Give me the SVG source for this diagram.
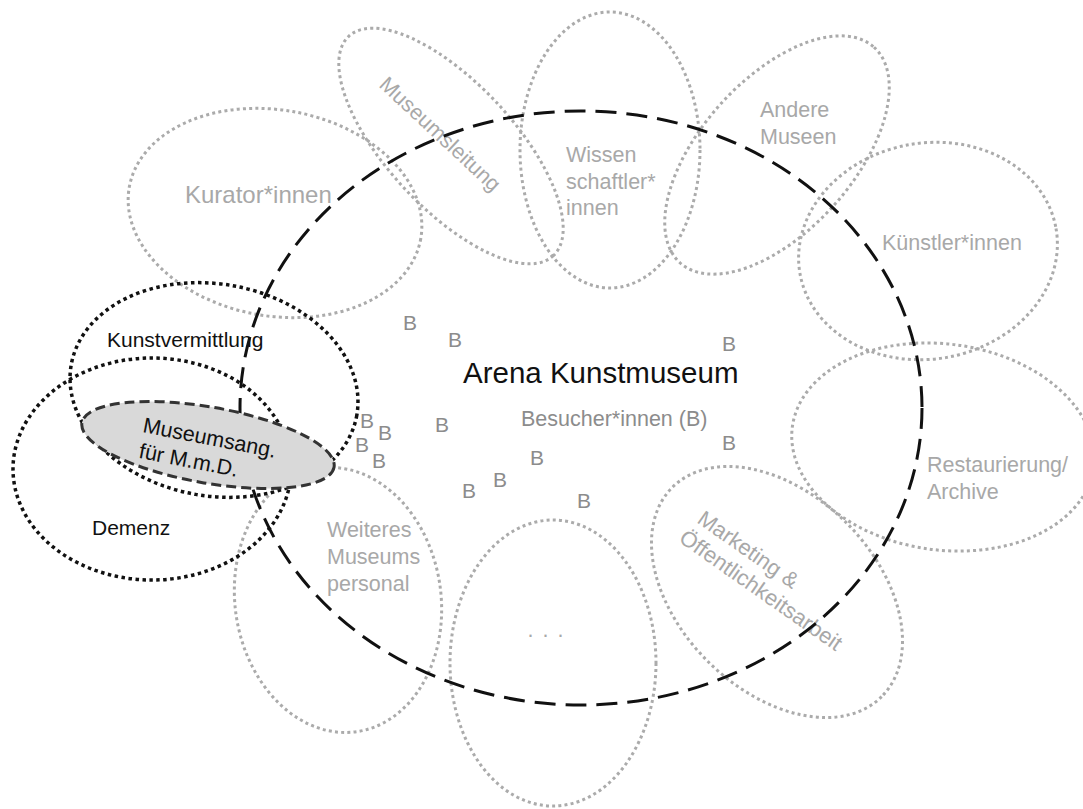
<svg xmlns="http://www.w3.org/2000/svg" width="1083" height="809" viewBox="0 0 1083 809">
  <style>
    .grp { fill: none; stroke: #ababab; stroke-width: 3; stroke-dasharray: 3 3.2; }
    .blk { fill: none; stroke: #111; stroke-width: 3.5; stroke-dasharray: 3.5 3.5; }
    .arena { fill: none; stroke: #111; stroke-width: 3; stroke-dasharray: 21 10; }
    .focus { fill: #d9d9d9; stroke: #333; stroke-width: 3; stroke-dasharray: 10 5; }
    .lbl { font-family: "Liberation Sans", Arial, sans-serif; font-size: 21.5px; fill: #a8a8a8; }
    .b { font-family: "Liberation Sans", Arial, sans-serif; font-size: 21px; fill: #8c8c8c; }
    .dark { font-family: "Liberation Sans", Arial, sans-serif; font-size: 21px; fill: #111; }
  </style>
  <rect width="1083" height="809" fill="#fff"/>

  <!-- stakeholder groups around the arena -->
  <g id="kuratoren">
    <ellipse class="grp" cx="275" cy="213" rx="148" ry="103" transform="rotate(10 275 213)"/>
    <text class="lbl" x="185" y="203" style="font-size:24px">Kurator*innen</text>
  </g>
  <g id="museumsleitung">
    <ellipse class="grp" cx="451" cy="146" rx="150" ry="63" transform="rotate(47 451 146)"/>
    <text class="lbl" transform="translate(378 86) rotate(43)">Museumsleitung</text>
  </g>
  <g id="wissenschaftler">
    <ellipse class="grp" cx="610" cy="150" rx="90" ry="138"/>
    <text class="lbl" x="566" y="162">Wissen<tspan x="566" dy="26.5">schaftler*</tspan><tspan x="566" dy="26.5">innen</tspan></text>
  </g>
  <g id="andere-museen">
    <ellipse class="grp" cx="777" cy="155" rx="145" ry="76" transform="rotate(-48 777 155)"/>
    <text class="lbl" x="760" y="117">Andere<tspan x="760" dy="26.5">Museen</tspan></text>
  </g>
  <g id="kuenstler">
    <ellipse class="grp" cx="928" cy="251" rx="130" ry="108" transform="rotate(-10 928 251)"/>
    <text class="lbl" x="882" y="250">Künstler*innen</text>
  </g>
  <g id="restaurierung">
    <ellipse class="grp" cx="943" cy="447" rx="152" ry="103" transform="rotate(7.7 943 447)"/>
    <text class="lbl" x="927" y="472">Restaurierung/<tspan x="927" dy="27">Archive</tspan></text>
  </g>
  <g id="marketing">
    <ellipse class="grp" cx="777" cy="592" rx="148" ry="98" transform="rotate(45 777 592)"/>
    <text class="lbl" transform="translate(696 522) rotate(35)" style="font-size:22px">Marketing &amp;<tspan x="-4" dy="26">Öffentlichkeitsarbeit</tspan></text>
  </g>
  <g id="weitere">
    <ellipse class="grp" cx="553" cy="663" rx="103" ry="143"/>
    <text class="lbl" x="550" y="637" text-anchor="middle" letter-spacing="9">...</text>
  </g>
  <g id="museumspersonal">
    <ellipse class="grp" cx="338" cy="600" rx="103" ry="133" transform="rotate(-8 338 600)"/>
    <text class="lbl" x="327" y="537">Weiteres<tspan x="327" dy="27">Museums</tspan><tspan x="327" dy="27">personal</tspan></text>
  </g>

  <!-- overlapping fields on the left -->
  <g id="kunstvermittlung">
    <ellipse class="blk" cx="214" cy="390" rx="145" ry="106" transform="rotate(10 214 390)"/>
    <text class="dark" x="107" y="347">Kunstvermittlung</text>
  </g>
  <g id="demenz">
    <ellipse class="blk" cx="152" cy="469" rx="139" ry="111"/>
    <text class="dark" x="92" y="535">Demenz</text>
  </g>

  <!-- the arena and its visitors -->
  <g id="arena">
    <ellipse class="arena" cx="581" cy="408" rx="341" ry="297"/>
    <text x="463" y="383" style="font-family:'Liberation Sans', Arial, sans-serif; font-size:29.5px; fill:#111">Arena Kunstmuseum</text>
    <text class="b" x="521" y="426" style="font-size:21.5px">Besucher*innen (B)</text>
  </g>
  <g id="besucher">
    <text class="b" x="403" y="330">B</text>
    <text class="b" x="448" y="347">B</text>
    <text class="b" x="722" y="351">B</text>
    <text class="b" x="360" y="428">B</text>
    <text class="b" x="378" y="440">B</text>
    <text class="b" x="355" y="452">B</text>
    <text class="b" x="372" y="468">B</text>
    <text class="b" x="435" y="432">B</text>
    <text class="b" x="530" y="465">B</text>
    <text class="b" x="493" y="487">B</text>
    <text class="b" x="462" y="498">B</text>
    <text class="b" x="577" y="508">B</text>
    <text class="b" x="722" y="450">B</text>
  </g>

  <!-- the offer at the intersection -->
  <g id="museumsangebot">
    <ellipse class="focus" cx="208" cy="445" rx="128" ry="38" transform="rotate(10 208 445)"/>
    <text class="dark" transform="translate(142 432) rotate(11)" style="font-size:21.5px">Museumsang.<tspan x="1" dy="26">für M.m.D.</tspan></text>
  </g>

  <g id="connectors"/>
</svg>
